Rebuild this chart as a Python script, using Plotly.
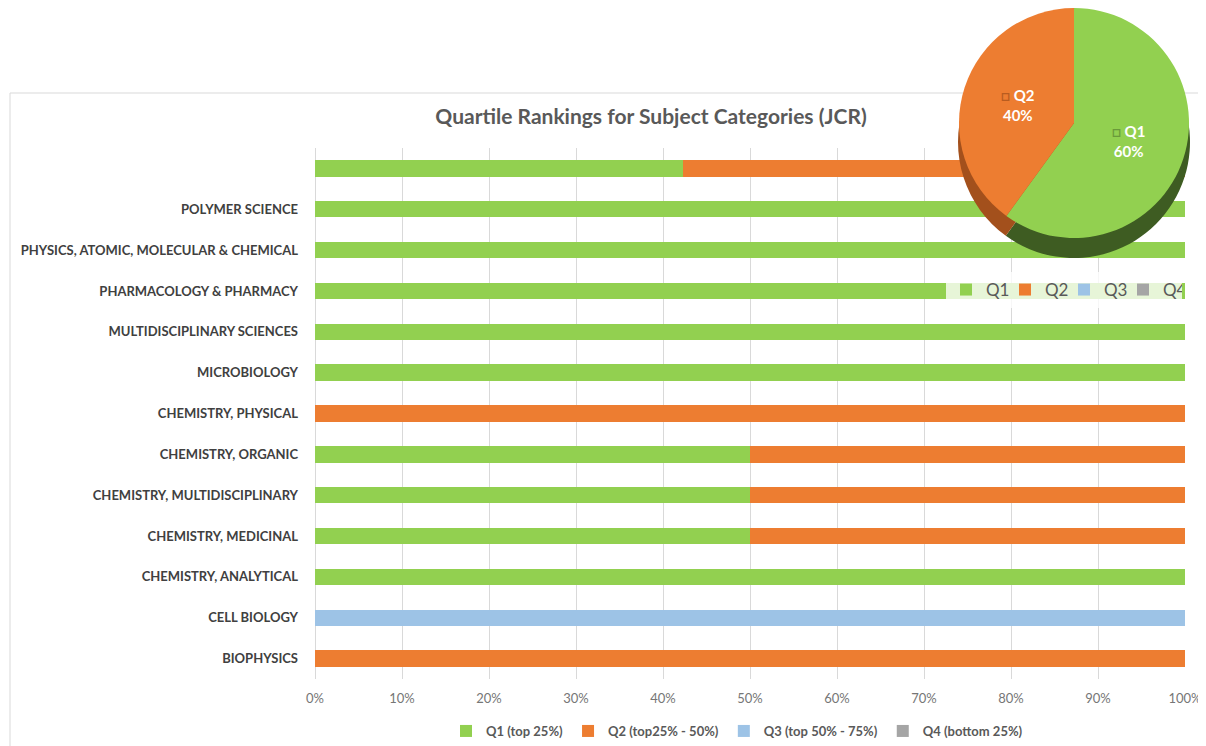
import plotly.graph_objects as go

# page body has an 8px margin: figure occupies the viewport from (8, 8)
OFF = 8
W, H = 1206 - OFF, 746 - OFF


def fx(px):
    return (px - OFF) / W


def fy(py):
    return 1 - (py - OFF) / H


categories = [
    " ",
    "POLYMER SCIENCE",
    "PHYSICS, ATOMIC, MOLECULAR & CHEMICAL",
    "PHARMACOLOGY & PHARMACY",
    "MULTIDISCIPLINARY SCIENCES",
    "MICROBIOLOGY",
    "CHEMISTRY, PHYSICAL",
    "CHEMISTRY, ORGANIC",
    "CHEMISTRY, MULTIDISCIPLINARY",
    "CHEMISTRY, MEDICINAL",
    "CHEMISTRY, ANALYTICAL",
    "CELL BIOLOGY",
    "BIOPHYSICS",
]
q1 = [0.423, 1, 1, 1, 1, 1, 0, 0.5, 0.5, 0.5, 1, 0, 0]
q2 = [0.577, 0, 0, 0, 0, 0, 1, 0.5, 0.5, 0.5, 0, 0, 1]
q3 = [0, 0, 0, 0, 0, 0, 0, 0, 0, 0, 0, 1, 0]
q4 = [0, 0, 0, 0, 0, 0, 0, 0, 0, 0, 0, 0, 0]
series_names = ["Q1 (top 25%)", "Q2 (top25% - 50%)", "Q3 (top 50% - 75%)", "Q4 (bottom 25%)"]
colors = ["#92d050", "#ed7d31", "#9dc3e6", "#a5a5a5"]

pie_labels = ["Q1", "Q2", "Q3", "Q4"]
pie_values = [60, 40, 0, 0]
pie_text = ["<span style='color:#6a9a3a'>□</span> Q1<br>60%",
            "<span style='color:#b85c20'>□</span> Q2<br>40%", "", ""]
shadow_colors = ["#3e5c22", "#a3501c", "#6f8fae", "#777777"]

fig = go.Figure()

for name, vals, col in zip(series_names, [q1, q2, q3, q4], colors):
    fig.add_trace(go.Bar(
        y=categories, x=vals, name=name, orientation="h",
        marker=dict(color=col, line=dict(width=0)),
        legend="legend", hoverinfo="skip",
    ))

# pie geometry (viewport pixels)
cx, cy, D, depth = 1074, 122, 232, 20
px0, px1 = fx(cx - D / 2), min(1, fx(cx + D / 2))

fig.add_trace(go.Pie(
    labels=pie_labels, values=pie_values, sort=False, direction="clockwise",
    rotation=0, marker=dict(colors=shadow_colors, line=dict(width=0)),
    textinfo="none", showlegend=False, hoverinfo="skip",
    domain=dict(x=[px0, px1], y=[fy(cy + depth + D / 2), min(1, fy(cy + depth - D / 2))]),
))
fig.add_trace(go.Pie(
    labels=pie_labels, values=pie_values, sort=False, direction="clockwise",
    rotation=0, marker=dict(colors=colors, line=dict(width=0)),
    text=pie_text, texttemplate="%{text}", textposition="inside",
    insidetextorientation="horizontal",
    textfont=dict(color="white", size=15, family="Lato", weight="bold"),
    legend="legend2", hoverinfo="skip",
    domain=dict(x=[px0, px1], y=[fy(cy + D / 2), min(1, fy(cy - D / 2))]),
))

x0p, x1p = 315, 1185
y0p, y1p = 148, 679

fig.update_layout(
    width=W, height=H,
    margin=dict(l=0, r=0, t=0, b=0),
    paper_bgcolor="white", plot_bgcolor="white",
    barmode="stack", bargap=0.6,
    font=dict(family="Lato", color="#595959"),
    title=dict(
        text="<b>Quartile Rankings for Subject Categories (JCR)</b>",
        x=fx(651), y=fy(117), xanchor="center", yanchor="middle",
        font=dict(size=21, color="#595959", family="Lato"),
    ),
    xaxis=dict(
        domain=[fx(x0p), fx(x1p)], range=[0, 1], dtick=0.1, tickformat=".0%",
        showgrid=True, gridcolor="#d9d9d9", gridwidth=1,
        zeroline=True, zerolinecolor="#d9d9d9", zerolinewidth=1,
        showline=False, ticks="", automargin=False, ticklabeloverflow="allow",
        tickfont=dict(size=13, color="#767676"), ticklabelstandoff=10,
    ),
    yaxis=dict(
        domain=[fy(y1p), fy(y0p)], categoryorder="array",
        categoryarray=categories[::-1], autorange=False, range=[-0.5, 12.5],
        showgrid=False, zeroline=False, showline=False, ticks="", automargin=False,
        tickfont=dict(size=13, color="#404040", family="Lato", weight="bold"),
        ticklabelstandoff=16,
    ),
    legend=dict(
        orientation="h", x=fx(737), y=0, xanchor="center", yanchor="bottom",
        font=dict(size=13, color="#595959", family="Lato", weight="bold"),
        bgcolor="rgba(0,0,0,0)", traceorder="normal",
        itemwidth=30,
    ),
    legend2=dict(
        orientation="h", x=fx(946), y=fy(290), xanchor="left", yanchor="middle",
        font=dict(size=17, color="#595959", family="Lato"),
        bgcolor="rgba(255,255,255,0.78)", borderwidth=0,
        entrywidth=14, entrywidthmode="pixels", itemwidth=30,
        traceorder="normal",
    ),
    shapes=[dict(
        type="rect", xref="paper", yref="paper",
        x0=fx(10), x1=1.02, y0=-0.02, y1=fy(93),
        line=dict(color="#d9d9d9", width=1), fillcolor="rgba(0,0,0,0)", layer="below",
    )],
)

fig.write_html("out.html")
